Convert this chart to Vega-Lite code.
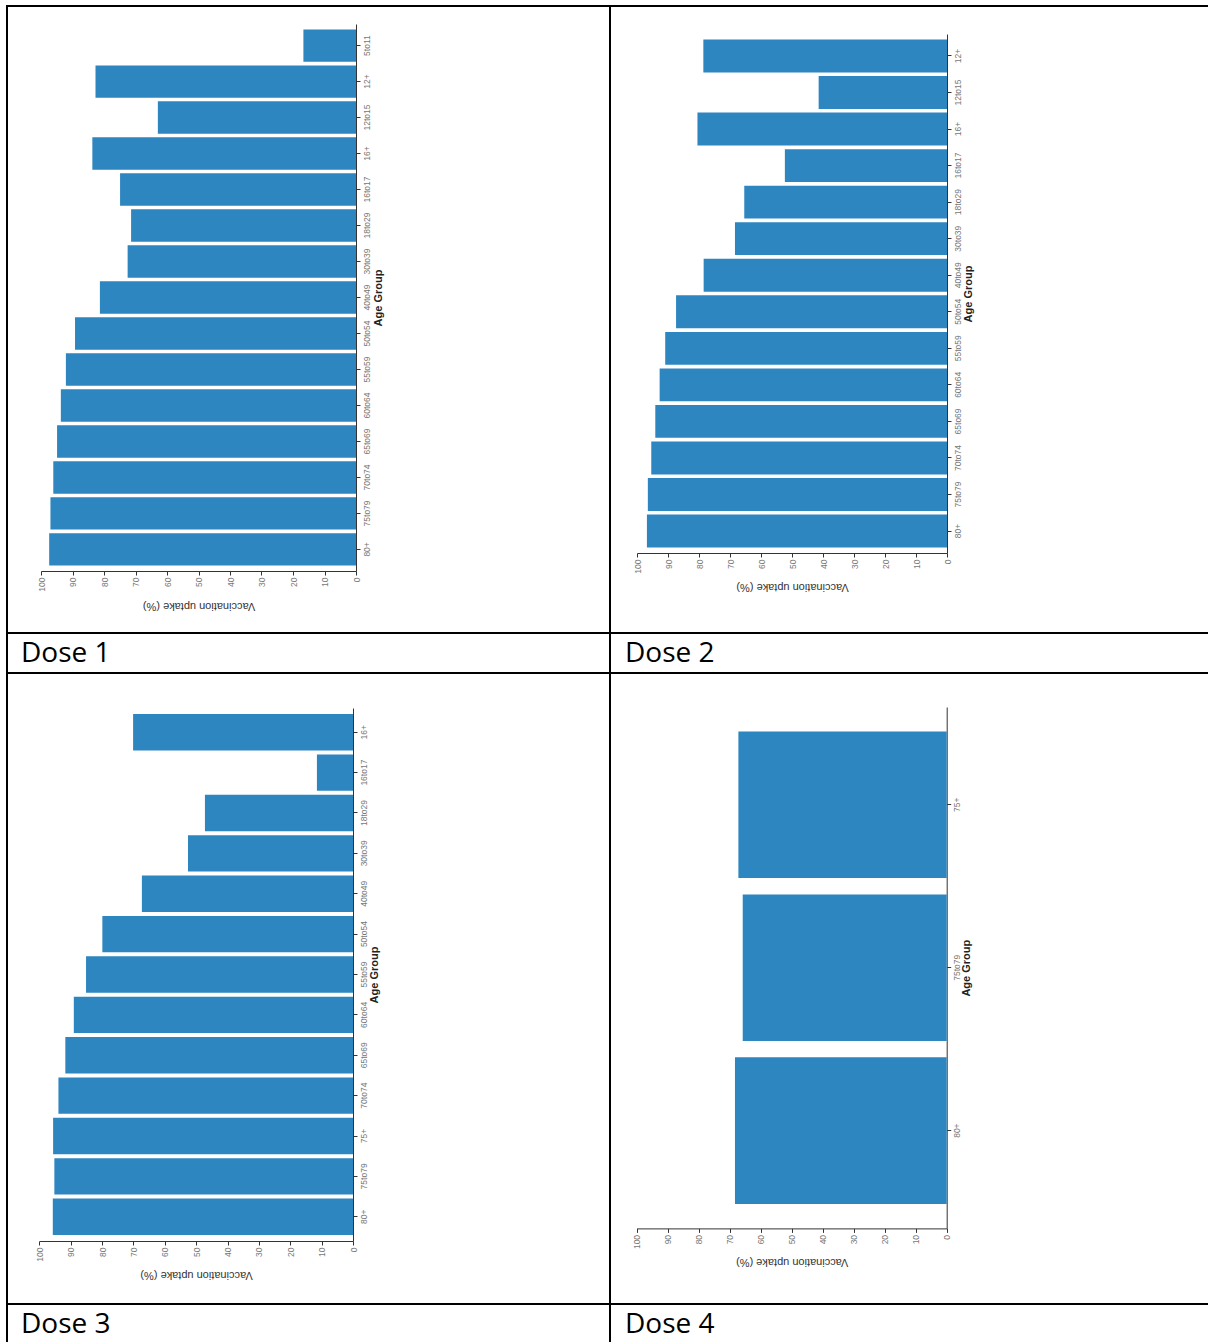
{
  "$schema": "https://vega.github.io/schema/vega-lite/v6.json",
  "padding": {"left": 6, "top": 5, "right": 0, "bottom": 0},
  "spacing": 0,
  "bounds": "flush",
  "columns": 2,
  "config": {
    "view": {"stroke": "black", "strokeWidth": 2},
    "bar": {"color": "#2e86c1"},
    "axis": {
      "labelFont": "Liberation Sans", "labelFontSize": 8.5, "labelColor": "#777",
      "titleFont": "Liberation Sans", "domainColor": "#333", "tickColor": "#333",
      "tickSize": 4, "grid": false, "labelFlush": false, "labelOverlap": false
    },
    "title": {"font": "Open Sans", "fontSize": 28, "fontWeight": "normal", "color": "black", "anchor": "start", "orient": "top", "baseline": "alphabetic"}
  },
  "datasets": {
    "dose1": [
      {"age": "5to11", "uptake": 16.7}, {"age": "12+", "uptake": 82.7}, {"age": "12to15", "uptake": 62.9},
      {"age": "16+", "uptake": 83.7}, {"age": "16to17", "uptake": 74.9}, {"age": "18to29", "uptake": 71.4},
      {"age": "30to39", "uptake": 72.5}, {"age": "40to49", "uptake": 81.3}, {"age": "50to54", "uptake": 89.2},
      {"age": "55to59", "uptake": 92.1}, {"age": "60to64", "uptake": 93.7}, {"age": "65to69", "uptake": 94.9},
      {"age": "70to74", "uptake": 96.1}, {"age": "75to79", "uptake": 97.0}, {"age": "80+", "uptake": 97.4}
    ],
    "dose2": [
      {"age": "12+", "uptake": 78.6}, {"age": "12to15", "uptake": 41.4}, {"age": "16+", "uptake": 80.5},
      {"age": "16to17", "uptake": 52.3}, {"age": "18to29", "uptake": 65.4}, {"age": "30to39", "uptake": 68.4},
      {"age": "40to49", "uptake": 78.5}, {"age": "50to54", "uptake": 87.4}, {"age": "55to59", "uptake": 90.9},
      {"age": "60to64", "uptake": 92.7}, {"age": "65to69", "uptake": 94.1}, {"age": "70to74", "uptake": 95.4},
      {"age": "75to79", "uptake": 96.5}, {"age": "80+", "uptake": 96.8}
    ],
    "dose3": [
      {"age": "16+", "uptake": 70.1}, {"age": "16to17", "uptake": 11.5}, {"age": "18to29", "uptake": 47.2},
      {"age": "30to39", "uptake": 52.6}, {"age": "40to49", "uptake": 67.3}, {"age": "50to54", "uptake": 79.9},
      {"age": "55to59", "uptake": 85.1}, {"age": "60to64", "uptake": 89.0}, {"age": "65to69", "uptake": 91.7},
      {"age": "70to74", "uptake": 93.9}, {"age": "75+", "uptake": 95.6}, {"age": "75to79", "uptake": 95.2},
      {"age": "80+", "uptake": 95.7}
    ],
    "dose4": [
      {"age": "75+", "uptake": 67.2}, {"age": "75to79", "uptake": 65.8}, {"age": "80+", "uptake": 68.3}
    ]
  },
  "concat": [
    {
      "width": 603, "height": 627,
      "data": {"name": "dose1"},
      "mark": {"type": "bar"},
      "encoding": {
        "y": {"field": "age", "type": "nominal", "sort": null,
          "scale": {"range": [18, 565], "paddingInner": 0.1, "paddingOuter": 0.15},
          "axis": {"orient": "right", "offset": -254, "title": "Age Group", "labelAngle": 270, "labelAlign": "center", "labelBaseline": "top", "labelPadding": 2,
            "titleAngle": 270, "titleX": 22, "titleY": 291.5, "titleAlign": "center", "titleBaseline": "middle", "titleFontWeight": "bold", "titleFontSize": 11, "titleColor": "#222"}},
        "x": {"field": "uptake", "type": "quantitative",
          "scale": {"domain": [0, 100], "range": [349, 34]},
          "axis": {"orient": "bottom", "offset": -62, "title": "Vaccination uptake (%)", "values": [0, 10, 20, 30, 40, 50, 60, 70, 80, 90, 100],
            "labelAngle": 270, "labelAlign": "right", "labelBaseline": "middle", "labelPadding": 2,
            "titleAngle": 180, "titleX": 191.5, "titleY": 34, "titleAlign": "center", "titleBaseline": "middle", "titleFontWeight": "normal", "titleFontSize": 11, "titleColor": "#333"}}
      }
    },
    {
      "width": 600, "height": 627,
      "data": {"name": "dose2"},
      "mark": {"type": "bar"},
      "encoding": {
        "y": {"field": "age", "type": "nominal", "sort": null,
          "scale": {"range": [28, 547], "paddingInner": 0.1, "paddingOuter": 0.15},
          "axis": {"orient": "right", "offset": -263, "title": "Age Group", "labelAngle": 270, "labelAlign": "center", "labelBaseline": "top", "labelPadding": 2,
            "titleAngle": 270, "titleX": 21, "titleY": 287.5, "titleAlign": "center", "titleBaseline": "middle", "titleFontWeight": "bold", "titleFontSize": 11, "titleColor": "#222"}},
        "x": {"field": "uptake", "type": "quantitative",
          "scale": {"domain": [0, 100], "range": [337, 27]},
          "axis": {"orient": "bottom", "offset": -80, "title": "Vaccination uptake (%)", "values": [0, 10, 20, 30, 40, 50, 60, 70, 80, 90, 100],
            "labelAngle": 270, "labelAlign": "right", "labelBaseline": "middle", "labelPadding": 2,
            "titleAngle": 180, "titleX": 182, "titleY": 33, "titleAlign": "center", "titleBaseline": "middle", "titleFontWeight": "normal", "titleFontSize": 11, "titleColor": "#333"}}
      }
    },
    {"width": 603, "height": 40, "view": {"stroke": "black", "strokeWidth": 2},
     "data": {"values": [{"dose": "Dose 1", "v": 0}]}, "mark": {"type": "point", "opacity": 0},
     "encoding": {"x": {"field": "v", "type": "quantitative", "axis": null}, "y": {"field": "v", "type": "quantitative", "axis": null}},
     "title": {"text": "Dose 1", "offset": -35, "dx": 14}},
    {"width": 600, "height": 40, "view": {"stroke": "black", "strokeWidth": 2},
     "data": {"values": [{"dose": "Dose 2", "v": 0}]}, "mark": {"type": "point", "opacity": 0},
     "encoding": {"x": {"field": "v", "type": "quantitative", "axis": null}, "y": {"field": "v", "type": "quantitative", "axis": null}},
     "title": {"text": "Dose 2", "offset": -35, "dx": 15}},
    {
      "width": 603, "height": 631,
      "data": {"name": "dose3"},
      "mark": {"type": "bar"},
      "encoding": {
        "y": {"field": "age", "type": "nominal", "sort": null,
          "scale": {"range": [35, 568], "paddingInner": 0.1, "paddingOuter": 0.15},
          "axis": {"orient": "right", "offset": -257, "title": "Age Group", "labelAngle": 270, "labelAlign": "center", "labelBaseline": "top", "labelPadding": 2,
            "titleAngle": 270, "titleX": 21, "titleY": 301.5, "titleAlign": "center", "titleBaseline": "middle", "titleFontWeight": "bold", "titleFontSize": 11, "titleColor": "#222"}},
        "x": {"field": "uptake", "type": "quantitative",
          "scale": {"domain": [0, 100], "range": [346, 32.3]},
          "axis": {"orient": "bottom", "offset": -63, "title": "Vaccination uptake (%)", "values": [0, 10, 20, 30, 40, 50, 60, 70, 80, 90, 100],
            "labelAngle": 270, "labelAlign": "right", "labelBaseline": "middle", "labelPadding": 2,
            "titleAngle": 180, "titleX": 189, "titleY": 33, "titleAlign": "center", "titleBaseline": "middle", "titleFontWeight": "normal", "titleFontSize": 11, "titleColor": "#333"}}
      }
    },
    {
      "width": 600, "height": 631,
      "data": {"name": "dose4"},
      "mark": {"type": "bar"},
      "encoding": {
        "y": {"field": "age", "type": "nominal", "sort": null,
          "scale": {"range": [34, 555.4], "paddingInner": 0.1, "paddingOuter": 0.15},
          "axis": {"orient": "right", "offset": -263.3, "title": "Age Group", "labelAngle": 270, "labelAlign": "center", "labelBaseline": "top", "labelPadding": 2,
            "titleAngle": 270, "titleX": 20, "titleY": 294.7, "titleAlign": "center", "titleBaseline": "middle", "titleFontWeight": "bold", "titleFontSize": 11, "titleColor": "#222"}},
        "x": {"field": "uptake", "type": "quantitative",
          "scale": {"domain": [0, 100], "range": [336.7, 26.7]},
          "axis": {"orient": "bottom", "offset": -75.6, "title": "Vaccination uptake (%)", "values": [0, 10, 20, 30, 40, 50, 60, 70, 80, 90, 100],
            "labelAngle": 270, "labelAlign": "right", "labelBaseline": "middle", "labelPadding": 2,
            "titleAngle": 180, "titleX": 181.7, "titleY": 33, "titleAlign": "center", "titleBaseline": "middle", "titleFontWeight": "normal", "titleFontSize": 11, "titleColor": "#333"}}
      }
    },
    {"width": 603, "height": 40, "view": {"stroke": "black", "strokeWidth": 2},
     "data": {"values": [{"dose": "Dose 3", "v": 0}]}, "mark": {"type": "point", "opacity": 0},
     "encoding": {"x": {"field": "v", "type": "quantitative", "axis": null}, "y": {"field": "v", "type": "quantitative", "axis": null}},
     "title": {"text": "Dose 3", "offset": -35, "dx": 14}},
    {"width": 600, "height": 40, "view": {"stroke": "black", "strokeWidth": 2},
     "data": {"values": [{"dose": "Dose 4", "v": 0}]}, "mark": {"type": "point", "opacity": 0},
     "encoding": {"x": {"field": "v", "type": "quantitative", "axis": null}, "y": {"field": "v", "type": "quantitative", "axis": null}},
     "title": {"text": "Dose 4", "offset": -35, "dx": 15}}
  ]
}
